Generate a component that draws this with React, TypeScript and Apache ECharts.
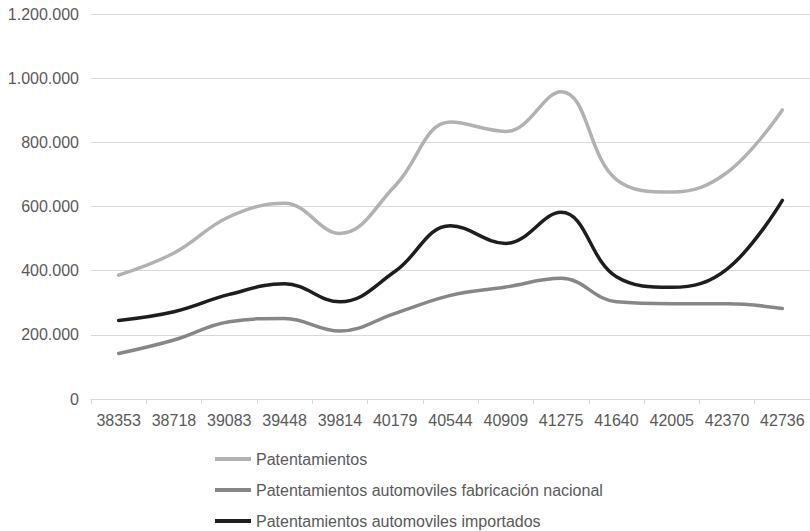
import React, { useEffect, useRef } from "react";
import * as echarts from "echarts";

const categories = ["38353", "38718", "39083", "39448", "39814", "40179", "40544", "40909", "41275", "41640", "42005", "42370", "42736"];
const patentamientos = [386000, 455000, 568000, 610000, 516000, 665000, 863000, 834000, 958000, 684000, 645000, 706000, 901000];
const nacional = [142000, 184000, 241000, 251000, 212000, 267000, 323000, 349000, 376000, 303000, 297000, 297000, 282000];
const importados = [245000, 272000, 326000, 359000, 303000, 398000, 540000, 485000, 582000, 381000, 348000, 405000, 619000];
const seriesNames = [
  "Patentamientos",
  "Patentamientos automoviles fabricación nacional",
  "Patentamientos automoviles importados",
];
const colors = ["#b2b2b2", "#878787", "#1e1e1e"];

const font = "'Liberation Sans', Arial, sans-serif";
const fmt = (v: number) => String(v).replace(/\B(?=(\d{3})+(?!\d))/g, ".");

export default function App() {
  const ref = useRef<HTMLDivElement>(null);
  useEffect(() => {
    if (!ref.current) return;
    const chart = echarts.init(ref.current, null, { renderer: "svg" });
    const data = [patentamientos, nacional, importados];
    chart.setOption({
      animation: false,
      backgroundColor: "#ffffff",
      grid: { left: 91, right: 0, top: 14, bottom: 132 },
      legend: {
        orient: "vertical",
        left: 215,
        top: 451,
        padding: 0,
        itemGap: 15,
        itemWidth: 36,
        itemHeight: 4,
        icon: "rect",
        textStyle: { color: "#595959", fontSize: 16, fontFamily: font, lineHeight: 16 },
        data: seriesNames,
      },
      xAxis: {
        type: "category",
        data: categories,
        boundaryGap: true,
        axisLine: { show: true, lineStyle: { color: "#d9d9d9", width: 1 } },
        axisTick: { show: true, length: 5, lineStyle: { color: "#d9d9d9" } },
        axisLabel: { color: "#595959", fontSize: 16, fontFamily: font, margin: 13, interval: 0 },
      },
      yAxis: {
        type: "value",
        min: 0,
        max: 1200000,
        interval: 200000,
        axisLine: { show: false },
        axisTick: { show: false },
        splitLine: { lineStyle: { color: "#d9d9d9", width: 1 } },
        axisLabel: { color: "#595959", fontSize: 16, fontFamily: font, margin: 12, formatter: (v: number) => fmt(v) },
      },
      series: seriesNames.map((name, i) => ({
        name,
        type: "line",
        data: data[i],
        smooth: 0.4,
        symbol: "none",
        lineStyle: { color: colors[i], width: 3.5, cap: "round" },
        itemStyle: { color: colors[i] },
      })),
    });
    return () => chart.dispose();
  }, []);
  return <div ref={ref} style={{ position: "fixed", left: 0, top: 0, width: 810, height: 531 }} />;
}
